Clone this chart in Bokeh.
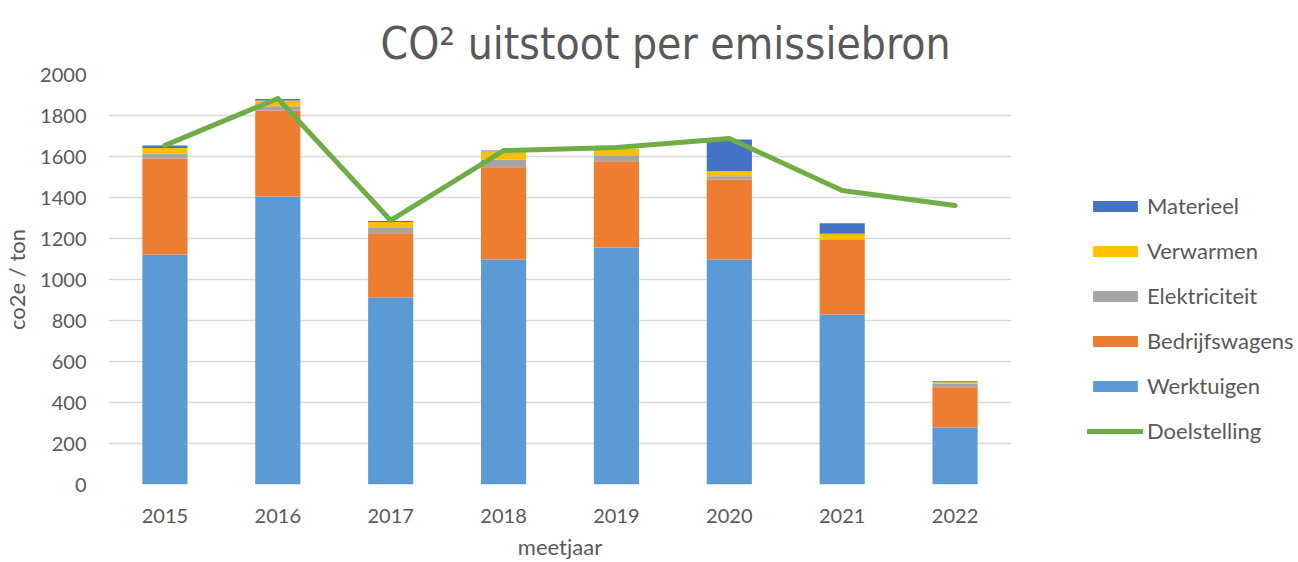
from bokeh.plotting import figure
from bokeh.models import FactorRange, Range1d, FixedTicker, Legend, LegendItem, ColumnDataSource
from bokeh.embed import file_html
from bokeh.resources import INLINE

years = ["2015", "2016", "2017", "2018", "2019", "2020", "2021", "2022"]
werktuigen = [1122, 1405, 912, 1098, 1156, 1098, 829, 278]
bedrijfswagens = [468, 419, 314, 450, 421, 390, 366, 197]
elektriciteit = [25, 21, 29, 36, 29, 16, 3, 16]
verwarmen = [26, 28, 25, 42, 32, 24, 25, 8]
materieel = [13, 7, 5, 3, 0, 155, 52, 5]
doelstelling = [1654, 1883, 1288, 1629, 1644, 1688, 1434, 1361]

series = ["Werktuigen", "Bedrijfswagens", "Elektriciteit", "Verwarmen", "Materieel"]
colors = ["#5B9BD5", "#ED7D31", "#A5A5A5", "#FFC000", "#4472C4"]

src = ColumnDataSource(dict(
    years=years, Werktuigen=werktuigen, Bedrijfswagens=bedrijfswagens,
    Elektriciteit=elektriciteit, Verwarmen=verwarmen, Materieel=materieel,
    Doelstelling=doelstelling))

FONT = "Lato"
GREY = "#595959"

p = figure(x_range=FactorRange(*years), y_range=Range1d(0, 2000),
           frame_width=903, frame_height=410, output_backend="svg", toolbar_location=None,
           min_border_left=108, min_border_right=287, min_border_top=74, min_border_bottom=78,
           title="CO\u00b2 uitstoot per emissiebron")
p.outline_line_color = None

p.title.text_font = "'DejaVu Sans Condensed', 'DejaVu Sans'"
p.title.text_font_size = "44px"
p.title.text_font_style = "normal"
p.title.text_color = GREY
p.title.align = "left"
p.title.offset = 272
p.title.standoff = 12

bars = p.vbar_stack(series, x="years", width=0.4, color=colors, line_color=None, source=src)
line = p.line(x="years", y="Doelstelling", source=src, line_color="#70AD47", line_width=5,
              line_join="round", line_cap="round")

p.xgrid.grid_line_color = None
p.ygrid.grid_line_color = "#D9D9D9"
p.ygrid.grid_line_width = 1.3
p.yaxis.ticker = FixedTicker(ticks=list(range(0, 2001, 200)))

for ax in (p.xaxis[0], p.yaxis[0]):
    ax.axis_line_color = None
    ax.major_tick_line_color = None
    ax.minor_tick_line_color = None
    ax.major_tick_out = 0
    ax.major_tick_in = 0
    ax.minor_tick_out = 0
    ax.major_label_text_font = FONT
    ax.major_label_text_font_size = "20px"
    ax.major_label_text_color = GREY
    ax.axis_label_text_font = FONT
    ax.axis_label_text_font_size = "22px"
    ax.axis_label_text_color = GREY
    ax.axis_label_text_font_style = "normal"

p.xaxis.axis_label = "meetjaar"
p.yaxis.axis_label = "co2e / ton"
p.yaxis.major_label_standoff = 22
p.yaxis.axis_label_standoff = 7
p.xaxis.major_label_standoff = 24
p.xaxis.axis_label_standoff = 7

items = [LegendItem(label=series[i], renderers=[bars[i]]) for i in range(4, -1, -1)]
items.append(LegendItem(label="Doelstelling", renderers=[line]))
legend = Legend(items=items, location=(76, 40), padding=0, margin=0,
                border_line_color=None, background_fill_alpha=0,
                glyph_width=56, glyph_height=14, label_height=24, spacing=18,
                label_standoff=4, label_text_font=FONT, label_text_font_size="22px",
                label_text_color=GREY)
p.add_layout(legend, "right")

open("out.html", "w").write(file_html(p, INLINE))
